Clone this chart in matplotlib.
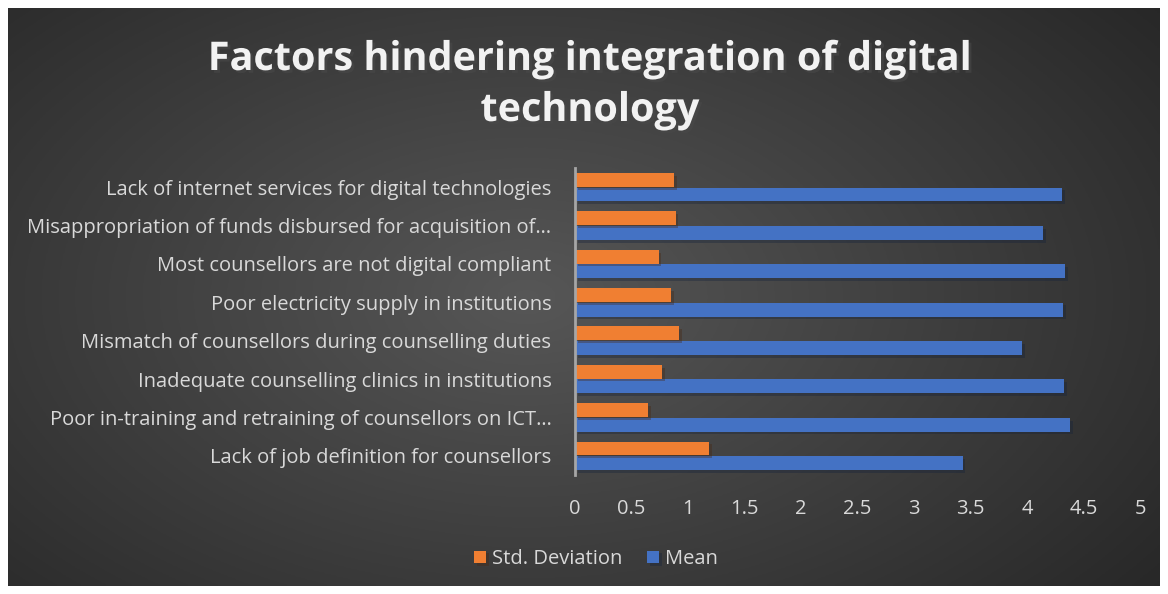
import numpy as np
import matplotlib.pyplot as plt
import matplotlib.patheffects as pe

plt.rcParams['font.family'] = ['Open Sans', 'DejaVu Sans']

# data, bottom category first
factors = [
    "Lack of job definition for counsellors",
    "Poor in-training and retraining of counsellors on ICT\u2026",
    "Inadequate counselling clinics in institutions",
    "Mismatch of counsellors during counselling duties",
    "Poor electricity supply in institutions",
    "Most counsellors are not digital compliant",
    "Misappropriation of funds disbursed for acquisition of\u2026",
    "Lack of internet services for digital technologies",
]
mean = [3.43, 4.38, 4.33, 3.96, 4.32, 4.34, 4.14, 4.31]
std_dev = [1.19, 0.65, 0.77, 0.92, 0.85, 0.74, 0.89, 0.88]
x_ticks = [0, 0.5, 1, 1.5, 2, 2.5, 3, 3.5, 4, 4.5, 5]

W, H = 1168, 594
fig = plt.figure(figsize=(W / 100, H / 100), dpi=100, facecolor='white')

# dark radial gradient background
bg = fig.add_axes([8 / W, 8 / H, 1 - 16 / W, 1 - 16 / H])
gx, gy = np.meshgrid(np.linspace(0, 1, 400), np.linspace(0, 1, 200))
r = np.sqrt(((gx - 0.45) / 0.75) ** 2 + ((gy - 0.5) / 0.9) ** 2)
shade = 0.34 - 0.2 * np.clip(r, 0, 1)
bg.imshow(np.dstack([shade] * 3), aspect='auto', extent=[0, 1, 0, 1])
bg.axis('off')

ax = fig.add_axes([575 / W, 1 - 475 / H, 565 / W, 307 / H])
ax.set_facecolor('none')
y = np.arange(len(factors))
h = 0.36
shadow = [pe.SimplePatchShadow(offset=(2, -2), alpha=0.35), pe.Normal()]
b1 = ax.barh(y - 0.19, mean, height=h, color='#4472C4', label='Mean')
b2 = ax.barh(y + 0.19, std_dev, height=h, color='#F07F32', label='Std. Deviation')
for b in list(b1) + list(b2):
    b.set_path_effects(shadow)

ax.set_xlim(0, 5)
ax.set_ylim(-0.5, len(factors) - 0.5)
ax.set_yticks(y)
ax.set_yticklabels(factors, fontsize=14.5, color='#d9d9d9')
ax.set_xticks(x_ticks)
ax.set_xticklabels([f"{t:g}" for t in x_ticks], fontsize=14.5, color='#d9d9d9')
ax.tick_params(length=0, axis='y', pad=17)
ax.tick_params(length=0, axis='x', pad=17)
for s in ['top', 'right', 'bottom']:
    ax.spines[s].set_visible(False)
ax.spines['left'].set_color('#a6a6a6')
ax.spines['left'].set_linewidth(2)

handles, labels = ax.get_legend_handles_labels()
leg = fig.legend(handles[::-1], labels[::-1], loc='center', bbox_to_anchor=(596 / W, 1 - 559 / H),
                 ncol=2, frameon=False, fontsize=14.5, handlelength=0.6, handleheight=0.6,
                 handletextpad=0.3, columnspacing=1.2)
for t in leg.get_texts():
    t.set_color('#d9d9d9')

fig.text(590 / W, 1 - 85 / H, "Factors hindering integration of digital\ntechnology",
         ha='center', va='center', fontsize=28.5, fontweight='bold', color='#f2f2f2',
         linespacing=1.4,
         path_effects=[pe.withSimplePatchShadow(offset=(2, -2), alpha=0.6)])

fig.savefig('out.png', dpi=100, facecolor='white')
